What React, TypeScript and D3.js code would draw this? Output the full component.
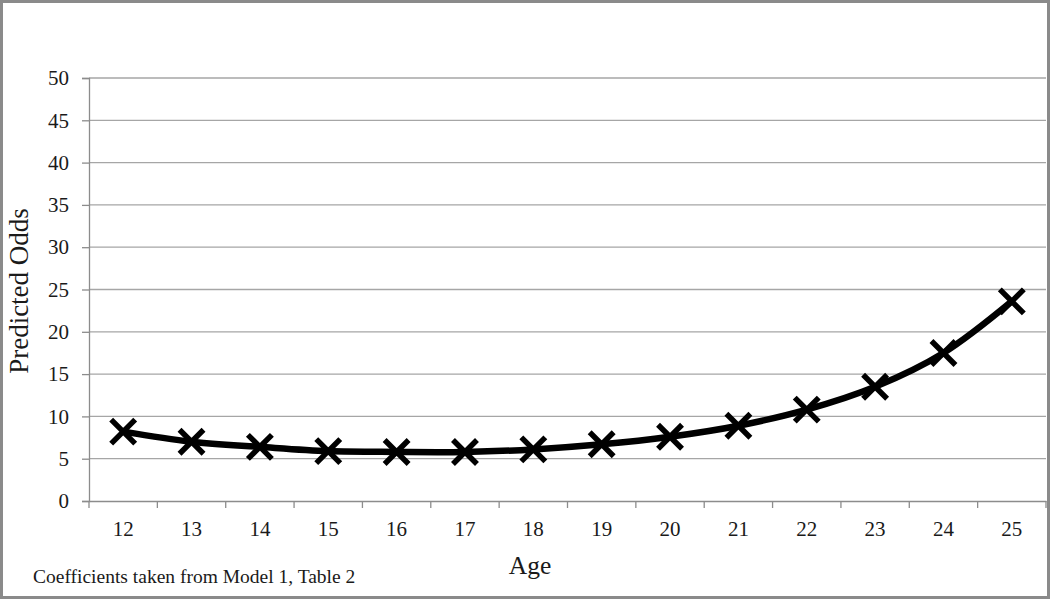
import React, { useEffect, useRef } from "react";
import * as d3 from "d3";

const ages = [12, 13, 14, 15, 16, 17, 18, 19, 20, 21, 22, 23, 24, 25];
const odds = [8.2, 7.0, 6.4, 5.9, 5.8, 5.8, 6.1, 6.7, 7.6, 8.9, 10.8, 13.5, 17.5, 23.6];
const yTicks = [0, 5, 10, 15, 20, 25, 30, 35, 40, 45, 50];

export default function App() {
  const ref = useRef<SVGSVGElement>(null);

  useEffect(() => {
    const width = 1050,
      height = 599;
    const left = 89,
      right = 1046,
      top = 78,
      bottom = 501;
    const font = "'Liberation Serif', 'Times New Roman', serif";
    const ink = "#1a1a1a";
    const axisCol = "#8c8c8c";

    const svg = d3.select(ref.current);
    svg.selectAll("*").remove();

    svg
      .append("rect")
      .attr("x", 1.5)
      .attr("y", 1.5)
      .attr("width", width - 3)
      .attr("height", height - 3)
      .attr("fill", "#fff")
      .attr("stroke", "#8a8a8a")
      .attr("stroke-width", 3);

    const x = d3.scaleBand<number>().domain(ages).range([left, right]);
    const y = d3.scaleLinear().domain([0, 50]).range([bottom, top]);

    // gridlines
    svg
      .append("g")
      .selectAll("line")
      .data(yTicks.filter((t) => t > 0))
      .join("line")
      .attr("x1", left)
      .attr("x2", right)
      .attr("y1", (d) => y(d))
      .attr("y2", (d) => y(d))
      .attr("stroke", "#a6a6a6")
      .attr("stroke-width", 1.3);

    // y axis
    const yAxis = svg
      .append("g")
      .attr("transform", `translate(${left},0)`)
      .call(d3.axisLeft(y).tickValues(yTicks).tickSize(7).tickPadding(13));
    yAxis.select(".domain").attr("stroke", axisCol).attr("stroke-width", 1.3);
    yAxis.selectAll(".tick line").attr("stroke", axisCol).attr("stroke-width", 1.3);
    yAxis
      .selectAll("text")
      .attr("font-family", font)
      .attr("font-size", 21)
      .attr("fill", ink);

    // x axis
    const xAxis = svg
      .append("g")
      .attr("transform", `translate(0,${bottom})`)
      .call(d3.axisBottom(x).tickSize(0).tickPadding(20));
    xAxis.select(".domain").attr("stroke", axisCol).attr("stroke-width", 1.3);
    xAxis
      .selectAll("text")
      .attr("font-family", font)
      .attr("font-size", 21)
      .attr("fill", ink);
    xAxis
      .append("g")
      .selectAll("line")
      .data(ages.map((a) => x(a)!).concat([right]))
      .join("line")
      .attr("x1", (d) => d)
      .attr("x2", (d) => d)
      .attr("y1", 0)
      .attr("y2", 7)
      .attr("stroke", axisCol)
      .attr("stroke-width", 1.3);

    const cx = (a: number) => x(a)! + x.bandwidth() / 2;

    const line = d3
      .line<number>()
      .x((_, i) => cx(ages[i]))
      .y((d) => y(d))
      .curve(d3.curveCatmullRom.alpha(0.5));

    svg
      .append("path")
      .datum(odds)
      .attr("fill", "none")
      .attr("stroke", "#000")
      .attr("stroke-width", 6.5)
      .attr("d", line);

    const s = 12;
    svg
      .append("g")
      .selectAll("path")
      .data(odds)
      .join("path")
      .attr("transform", (d, i) => `translate(${cx(ages[i])},${y(d)})`)
      .attr("d", `M${-s},${-s}L${s},${s}M${-s},${s}L${s},${-s}`)
      .attr("stroke", "#000")
      .attr("stroke-width", 5.5)
      .attr("fill", "none");

    svg
      .append("text")
      .attr("transform", `translate(28,291) rotate(-90)`)
      .attr("text-anchor", "middle")
      .attr("font-family", font)
      .attr("font-size", 27)
      .attr("fill", ink)
      .text("Predicted Odds");

    svg
      .append("text")
      .attr("x", 530)
      .attr("y", 574)
      .attr("text-anchor", "middle")
      .attr("font-family", font)
      .attr("font-size", 25.5)
      .attr("fill", ink)
      .text("Age");

    svg
      .append("text")
      .attr("x", 33)
      .attr("y", 583)
      .attr("font-family", font)
      .attr("font-size", 19.5)
      .attr("fill", ink)
      .text("Coefficients taken from Model 1, Table 2");
  }, []);

  return (
    <svg
      ref={ref}
      width={1050}
      height={599}
      style={{ position: "absolute", left: 0, top: 0 }}
    />
  );
}
